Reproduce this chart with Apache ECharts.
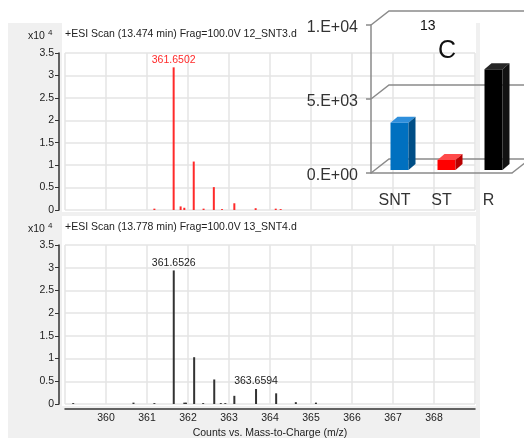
<!DOCTYPE html>
<html>
<head>
<meta charset="utf-8">
<script src="https://cdn.jsdelivr.net/npm/echarts@6/dist/echarts.min.js"></script>
<style>
  html, body { margin: 0; padding: 0; background: #fff; }
  #chart { width: 524px; height: 438px; }
</style>
</head>
<body>
<div id="chart"></div>
<script>
// spectrum 12_SNT3.d (top, red), intensities in x10^4 counts
const mzSNT3 = [361.18, 361.6502, 361.82, 361.91, 362.14, 362.38, 362.63, 362.83, 363.13, 363.65, 364.14, 364.26];
const intSNT3 = [0.03, 3.18, 0.08, 0.05, 1.08, 0.03, 0.51, 0.02, 0.15, 0.04, 0.03, 0.02];
const labelsSNT3 = [361.6502];

// spectrum 13_SNT4.d (bottom, black)
const mzSNT4 = [359.2, 360.67, 361.18, 361.6526, 361.91, 361.95, 362.15, 362.37, 362.64, 362.8, 362.91, 363.13, 363.6594, 364.15, 364.63, 365.12];
const intSNT4 = [0.02, 0.03, 0.02, 2.94, 0.03, 0.03, 1.03, 0.02, 0.54, 0.02, 0.02, 0.18, 0.33, 0.235, 0.04, 0.03];
const labelsSNT4 = [361.6526, 363.6594];

// 13C inset
const cats13C = ['SNT', 'ST', 'R'];
const val13C = [3200, 680, 6800];
const wallVals = [0, 5000, 10000];
const barColors = [
    ['#0070c0', '#2f8fdc', '#004e86'],
    ['#ff0000', '#ff4a4a', '#b80000'],
    ['#000000', '#262626', '#111111']
];

const FONT = 'Liberation Sans';
const TXT = '#222';
const WALL = '#8a8a8a';

const peaks = (mz, ints, labelled, color) => mz.map((m, i) => {
    const item = { value: [m, ints[i]] };
    if (labelled.indexOf(m) >= 0) {
        item.label = {
            show: true,
            position: 'top',
            distance: 2,
            color: color,
            fontFamily: FONT,
            fontSize: 10.5,
            formatter: p => p.value[0].toFixed(4)
        };
    }
    return item;
});

const specX = (idx, showAxis) => ({
    type: 'value',
    gridIndex: idx,
    min: 359,
    max: 369,
    interval: 1,
    offset: 5,
    axisLine: { show: showAxis, onZero: false, lineStyle: { color: '#333', width: 1.5 } },
    axisTick: { show: false },
    axisLabel: { show: showAxis, margin: 4, color: TXT, fontFamily: FONT, fontSize: 10.5,
        formatter: v => (v > 359 && v < 369) ? String(v) : '' },
    splitLine: { show: true, lineStyle: { color: '#e4e4e4', width: 1.5 } },
    name: showAxis ? 'Counts vs. Mass-to-Charge (m/z)' : '',
    nameLocation: 'middle',
    nameGap: 19,
    nameTextStyle: { color: TXT, fontFamily: FONT, fontSize: 10.5 }
});

const specY = (idx) => ({
    type: 'value',
    gridIndex: idx,
    min: 0,
    max: 3.5,
    interval: 0.5,
    offset: 6,
    axisLine: { show: true, lineStyle: { color: '#333', width: 1.5 } },
    axisTick: { show: true, length: 4, lineStyle: { color: '#333' } },
    axisLabel: { margin: 5, color: TXT, fontFamily: FONT, fontSize: 10.5,
        formatter: v => String(v) },
    splitLine: { show: true, lineStyle: { color: '#e4e4e4', width: 1.5 } }
});

// back wall + floor of the 3D box, drawn once from the inset's own scale
function renderWall(params, api) {
    const cs = params.coordSys;
    const right = cs.x + cs.width;
    const children = wallVals.map(v => {
        const y = api.coord([0, v])[1];
        return {
            type: 'polyline',
            shape: { points: [[cs.x, y], [cs.x + 18, y - 14], [right + 40, y - 14]] },
            style: { stroke: WALL, lineWidth: 1.5, fill: null }
        };
    });
    const y0 = api.coord([0, 0])[1];
    children.push({
        type: 'line',
        shape: { x1: right, y1: y0, x2: right + 18, y2: y0 - 14 },
        style: { stroke: WALL, lineWidth: 1.5 }
    });
    return { type: 'group', children: children };
}

function renderBar3d(params, api) {
    const i = api.value(0);
    const v = api.value(1);
    const base = api.coord([i, 0]);
    const top = api.coord([i, v]);
    const w = 18, sx = 5, sy = -3, dx = 7, dy = -6;
    const x0 = base[0] - w / 2 + sx, x1 = x0 + w;
    const yb = base[1] + sy, yt = top[1] + sy;
    const c = barColors[params.dataIndex];
    return {
        type: 'group',
        children: [
            { type: 'polygon', shape: { points: [[x0, yb], [x1, yb], [x1, yt], [x0, yt]] }, style: { fill: c[0] } },
            { type: 'polygon', shape: { points: [[x0, yt], [x1, yt], [x1 + dx, yt + dy], [x0 + dx, yt + dy]] }, style: { fill: c[1] } },
            { type: 'polygon', shape: { points: [[x1, yb], [x1 + dx, yb + dy], [x1 + dx, yt + dy], [x1, yt]] }, style: { fill: c[2] } }
        ]
    };
}

const sciLabel = v => '{v|' + (v === 0 ? '0.E+00' : (v / Math.pow(10, Math.floor(Math.log10(v)))) + '.E+' +
    String(Math.floor(Math.log10(v))).padStart(2, '0')) + '}';

const x10 = (top) => ({
    left: 28, top: top, padding: 0,
    text: '{a|x10}{s|4}',
    textStyle: { rich: {
        a: { fontFamily: FONT, fontSize: 10.5, fontWeight: 'normal', color: TXT },
        s: { fontFamily: FONT, fontSize: 8, fontWeight: 'normal', color: TXT, verticalAlign: 'top', padding: [0, 0, 6, 3] }
    } }
});

const plainTitle = (left, top, text, size, color) => ({
    left: left, top: top, padding: 0, text: text,
    textStyle: { fontFamily: FONT, fontSize: size, fontWeight: 'normal', color: color }
});

const chart = echarts.init(document.getElementById('chart'));
chart.setOption({
    backgroundColor: '#fff',
    animation: false,
    graphic: [
        { type: 'rect', z: -10, shape: { x: 8, y: 23, width: 472, height: 415 }, style: { fill: '#f0f0f0' } },
        { type: 'rect', z: -9, shape: { x: 62, y: 23, width: 414, height: 189 }, style: { fill: '#fff' } },
        { type: 'rect', z: -9, shape: { x: 62, y: 216, width: 414, height: 190 }, style: { fill: '#fff' } }
    ],
    title: [
        x10(29),
        plainTitle(65, 29, '+ESI Scan (13.474 min) Frag=100.0V 12_SNT3.d', 10.5, TXT),
        x10(222),
        plainTitle(65, 222, '+ESI Scan (13.778 min) Frag=100.0V 13_SNT4.d', 10.5, TXT),
        plainTitle(420, 19, '13', 14, '#111'),
        plainTitle(438, 39, 'C', 25, '#111')
    ],
    grid: [
        { left: 65, top: 53, width: 410, height: 157, outerBoundsMode: 'none' },
        { left: 65, top: 245, width: 410, height: 159, outerBoundsMode: 'none' },
        { left: 371, top: 25, width: 141, height: 148, outerBoundsMode: 'none' }
    ],
    xAxis: [
        specX(0, false),
        specX(1, true),
        {
            type: 'category',
            gridIndex: 2,
            data: cats13C,
            boundaryGap: true,
            axisLine: { lineStyle: { color: WALL, width: 1.5 } },
            axisTick: { length: 5, lineStyle: { color: WALL, width: 1.5 } },
            axisLabel: { margin: 20, color: '#333', fontFamily: FONT, fontSize: 16 },
            splitLine: { show: false }
        }
    ],
    yAxis: [
        specY(0),
        specY(1),
        {
            type: 'value',
            gridIndex: 2,
            min: 0,
            max: 10000,
            interval: 5000,
            axisLine: { show: true, lineStyle: { color: WALL, width: 1.5 } },
            axisTick: { show: true, length: 5, lineStyle: { color: WALL, width: 1.5 } },
            axisLabel: { margin: 13, formatter: sciLabel,
                rich: { v: { color: '#333', fontFamily: FONT, fontSize: 16, padding: [5, 0, 0, 0] } } },
            splitLine: { show: false }
        }
    ],
    series: [
        {
            type: 'bar', xAxisIndex: 0, yAxisIndex: 0, barWidth: 2,
            itemStyle: { color: '#ff2a2a' },
            data: peaks(mzSNT3, intSNT3, labelsSNT3, '#ff2a2a')
        },
        {
            type: 'bar', xAxisIndex: 1, yAxisIndex: 1, barWidth: 2,
            itemStyle: { color: '#333' },
            data: peaks(mzSNT4, intSNT4, labelsSNT4, TXT)
        },
        {
            type: 'custom', xAxisIndex: 2, yAxisIndex: 2, z: 5, clip: false,
            renderItem: renderWall,
            data: [[0, 0]]
        },
        {
            type: 'custom', xAxisIndex: 2, yAxisIndex: 2, z: 6, clip: false,
            renderItem: renderBar3d,
            data: val13C.map((v, i) => [i, v])
        }
    ]
});
</script>
</body>
</html>
